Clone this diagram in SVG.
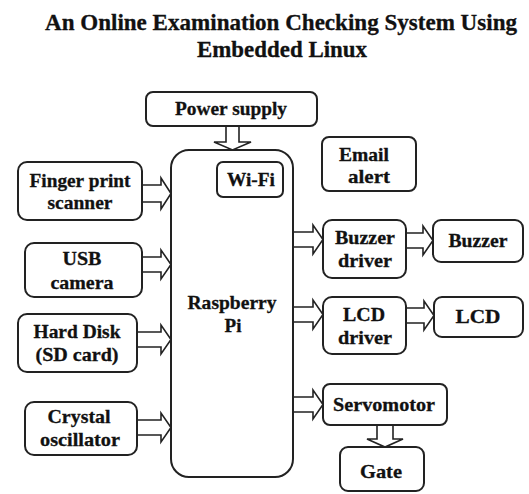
<svg xmlns="http://www.w3.org/2000/svg" width="529" height="494" viewBox="0 0 529 494">
<style>
.box{fill:#fff;stroke:#222;stroke-width:2}
.t{font-family:'Liberation Serif','DejaVu Serif',serif;font-weight:bold;font-size:19px;fill:#111;stroke:#111;stroke-width:0.3;text-anchor:middle}
.title{font-family:'Liberation Serif','DejaVu Serif',serif;font-weight:bold;font-size:23px;fill:#111;stroke:#111;stroke-width:0.3;text-anchor:middle}
.arr{fill:#fff;stroke:#222;stroke-width:1.6;stroke-linejoin:miter}
</style>
<rect width="529" height="494" fill="#fff"/>
<text class="title" x="281" y="30" textLength="472" lengthAdjust="spacingAndGlyphs">An Online Examination Checking System Using</text>
<text class="title" x="282" y="57" textLength="170" lengthAdjust="spacingAndGlyphs">Embedded Linux</text>

<g id="connectors">
<path class="arr" d="M226,127 V142 H214 L232.5,150 L251,142 H239 V127"/>
<path class="arr" d="M142,185 H161 V178 L171,193.5 L161,209 V202 H142"/>
<path class="arr" d="M142,257 H161 V250 L171,264.5 L161,279 V272 H142"/>
<path class="arr" d="M137,332 H161 V325 L171,339.5 L161,354 V347 H137"/>
<path class="arr" d="M137,420 H161 V413 L171,427.5 L161,442 V435 H137"/>
<path class="arr" d="M293,232 H313 V225 L323,239.5 L313,254 V247 H293"/>
<path class="arr" d="M406,233 H423 V226 L433,240.5 L423,255 V248 H406"/>
<path class="arr" d="M293,307 H313 V300 L323,314.5 L313,329 V322 H293"/>
<path class="arr" d="M406,308 H424 V301 L434,315.5 L424,330 V323 H406"/>
<path class="arr" d="M293,397 H313 V390 L323,404.5 L313,419 V412 H293"/>
<path class="arr" d="M377,425 V439 H367 L385,447 L403,439 H393 V425"/>
</g>

<g id="power"><rect class="box" x="146" y="92" width="171" height="34" rx="7"/><text class="t" x="231" y="115" textLength="112" lengthAdjust="spacingAndGlyphs">Power supply</text></g>
<g id="pi"><rect class="box" x="171" y="150" width="122" height="327" rx="18"/><text class="t" x="232" y="309" textLength="89" lengthAdjust="spacingAndGlyphs">Raspberry</text><text class="t" x="233" y="332">Pi</text></g>
<g id="wifi"><rect class="box" x="217" y="162" width="66" height="35" rx="6"/><text class="t" x="251" y="186" textLength="48" lengthAdjust="spacingAndGlyphs">Wi-Fi</text></g>
<g id="email"><rect class="box" x="322" y="137" width="94" height="54" rx="7"/><text class="t" x="364" y="161" textLength="50" lengthAdjust="spacingAndGlyphs">Email</text><text class="t" x="369" y="183" textLength="42" lengthAdjust="spacingAndGlyphs">alert</text></g>
<g id="finger"><rect class="box" x="18" y="162" width="124" height="58" rx="9"/><text class="t" x="80" y="187" textLength="101" lengthAdjust="spacingAndGlyphs">Finger print</text><text class="t" x="80" y="209" textLength="65" lengthAdjust="spacingAndGlyphs">scanner</text></g>
<g id="usb"><rect class="box" x="25" y="243" width="117" height="54" rx="9"/><text class="t" x="82" y="265" textLength="39" lengthAdjust="spacingAndGlyphs">USB</text><text class="t" x="82" y="289" textLength="63" lengthAdjust="spacingAndGlyphs">camera</text></g>
<g id="hdd"><rect class="box" x="18" y="314" width="119" height="58" rx="9"/><text class="t" x="77" y="338" textLength="87" lengthAdjust="spacingAndGlyphs">Hard Disk</text><text class="t" x="77" y="361" textLength="83" lengthAdjust="spacingAndGlyphs">(SD card)</text></g>
<g id="crystal"><rect class="box" x="25" y="402" width="112" height="53" rx="9"/><text class="t" x="79" y="423" textLength="63" lengthAdjust="spacingAndGlyphs">Crystal</text><text class="t" x="80" y="446" textLength="80" lengthAdjust="spacingAndGlyphs">oscillator</text></g>
<g id="buzzerdriver"><rect class="box" x="323" y="220" width="83" height="58" rx="9"/><text class="t" x="365" y="244" textLength="60" lengthAdjust="spacingAndGlyphs">Buzzer</text><text class="t" x="365" y="267" textLength="54" lengthAdjust="spacingAndGlyphs">driver</text></g>
<g id="buzzer"><rect class="box" x="433" y="220" width="90" height="42" rx="8"/><text class="t" x="478" y="247" textLength="59" lengthAdjust="spacingAndGlyphs">Buzzer</text></g>
<g id="lcddriver"><rect class="box" x="323" y="297" width="83" height="57" rx="9"/><text class="t" x="364" y="321" textLength="42" lengthAdjust="spacingAndGlyphs">LCD</text><text class="t" x="365" y="344" textLength="54" lengthAdjust="spacingAndGlyphs">driver</text></g>
<g id="lcd"><rect class="box" x="434" y="297" width="89" height="40" rx="8"/><text class="t" x="478" y="323" textLength="45" lengthAdjust="spacingAndGlyphs">LCD</text></g>
<g id="servo"><rect class="box" x="323" y="384" width="124" height="41" rx="7"/><text class="t" x="384" y="411" textLength="102" lengthAdjust="spacingAndGlyphs">Servomotor</text></g>
<g id="gate"><rect class="box" x="340" y="447" width="84" height="44" rx="8"/><text class="t" x="381" y="478" textLength="42" lengthAdjust="spacingAndGlyphs">Gate</text></g>
</svg>
